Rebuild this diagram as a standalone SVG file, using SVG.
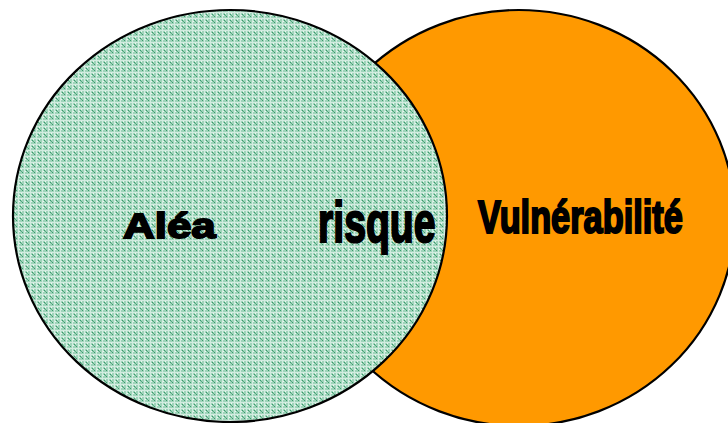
<svg xmlns="http://www.w3.org/2000/svg" width="728" height="423" viewBox="0 0 728 423">
  <style>
    .ring { stroke: #000; stroke-width: 2.2; }
    .lbl { font-family: "Liberation Sans", Arial, sans-serif; font-weight: bold; fill: #000; stroke: #000; }
  </style>
  <defs>
    <pattern id="stipple" width="6" height="6" patternUnits="userSpaceOnUse">
      <rect width="6" height="6" fill="#9fd4ba"/>
      <rect x="0" y="0" width="6" height="1" fill="#d2ece0"/>
      <rect x="0" y="0" width="1" height="6" fill="#d2ece0"/>
      <rect x="2" y="2" width="1" height="1" fill="#3a9a6c"/>
      <rect x="4" y="4" width="1" height="1" fill="#3a9a6c"/>
      <rect x="3" y="3" width="1" height="1" fill="#5aac85"/>
      <rect x="3" y="1" width="1" height="1" fill="#eef8f2"/>
      <rect x="1" y="3" width="1" height="1" fill="#eef8f2"/>
    </pattern>
  </defs>

  <rect width="728" height="423" fill="#ffffff"/>

  <g id="vulnerabilite">
    <ellipse class="ring" cx="519" cy="218" rx="216" ry="208" fill="#ff9900"/>
    <text class="lbl" transform="translate(478,233) scale(1.01,1.36)" x="0" y="0" font-size="34" stroke-width="1.6">Vulnérabilité</text>
  </g>

  <g id="alea">
    <ellipse class="ring" cx="230" cy="216" rx="217" ry="206" fill="url(#stipple)"/>
    <text class="lbl" transform="translate(123,238) scale(1.22,1)" x="0" y="0" font-size="36" stroke-width="1.8">Aléa</text>
  </g>

  <g id="risque">
    <text class="lbl" transform="translate(318,242) scale(0.98,1.44)" x="0" y="0" font-size="40" stroke-width="1.5">risque</text>
  </g>

  <g id="connectors"></g>
</svg>
